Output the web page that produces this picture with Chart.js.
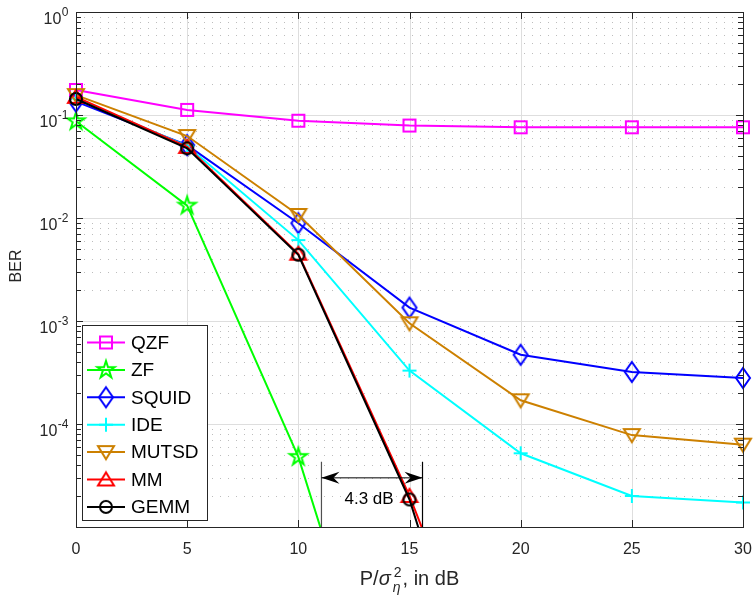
<!DOCTYPE html>
<html><head><meta charset="utf-8">
<script src="https://cdn.jsdelivr.net/npm/chart.js@4.4.1/dist/chart.umd.min.js"></script>
<style>html,body{margin:0;padding:0;background:#fff;}#wrap{width:753px;height:597px;}</style>
</head><body><div id="wrap"><canvas id="c" width="753" height="597"></canvas></div>
<script>
// ---- data ----
const snr   = [0, 5, 10, 15, 20, 25, 30];
const qzf   = [0.175, 0.112, 0.088, 0.079, 0.076, 0.076, 0.076];
const zf    = [0.087, 0.0132, 4.8e-5, 1.7e-8, null, null, null];
const squid = [0.135, 0.051, 0.0089, 0.00135, 0.00047, 0.00032, 0.00028];
const ide   = [0.145, 0.050, 0.0061, 0.00033, 5.2e-5, 2.0e-5, 1.73e-5];
const mutsd = [0.156, 0.0625, 0.0107, 0.00095, 0.00017, 7.8e-5, 6.3e-5];
const mm    = [0.150, 0.049, 0.0045, 2.0e-5, 3.5e-8, null, null];
const gemm  = [0.143, 0.0475, 0.0044, 1.85e-5, 7e-9, null, null];
const seriesNames = ['QZF', 'ZF', 'SQUID', 'IDE', 'MUTSD', 'MM', 'GEMM'];
const xTicks = [0, 5, 10, 15, 20, 25, 30];
const yMajorTicks = [1e0, 1e-1, 1e-2, 1e-3, 1e-4, 1e-5];
const yTickExps = ['0', '-1', '-2', '-3', '-4', ''];
const gapLabel = '4.3 dB';
const gapX = [11.04, 15.585];          // dB
const gapY = [4.3e-5, 3.0e-5, 1.67e-5]; // top of guides, arrow, text baseline
const gapTextX = 13.18;

const seriesData = [qzf, zf, squid, ide, mutsd, mm, gemm];
const colors = ['#ff00ff', '#00ff00', '#0000ff', '#00ffff', '#cc8000', '#ff0000', '#000000'];
const markerTypes = ['square', 'pentagram', 'diamond', 'plus', 'tridown', 'triup', 'circle'];
const FONT = '"Liberation Sans", Arial, Helvetica, sans-serif';
const AX = '#262626';

function makeMarker(type, color) {
  const s = 26, m = s / 2;
  const c = document.createElement('canvas'); c.width = s; c.height = s;
  const g = c.getContext('2d');
  g.strokeStyle = color; g.lineWidth = 2; g.lineJoin = 'miter';
  g.beginPath();
  if (type === 'square') { g.rect(m - 6, m - 6, 12, 12); }
  else if (type === 'pentagram') {
    const R = 9, r = R * 0.382;
    for (let i = 0; i < 10; i++) {
      const a = -Math.PI / 2 + i * Math.PI / 5, rr = i % 2 ? r : R;
      const px = m + rr * Math.cos(a), py = m + rr * Math.sin(a);
      i ? g.lineTo(px, py) : g.moveTo(px, py);
    }
    g.closePath();
  }
  else if (type === 'diamond') { g.moveTo(m, m - 10); g.lineTo(m + 7, m); g.lineTo(m, m + 10); g.lineTo(m - 7, m); g.closePath(); }
  else if (type === 'plus') { g.moveTo(m - 7, m); g.lineTo(m + 7, m); g.moveTo(m, m - 7); g.lineTo(m, m + 7); }
  else if (type === 'tridown') { g.moveTo(m - 8, m - 6); g.lineTo(m + 8, m - 6); g.lineTo(m, m + 7); g.closePath(); }
  else if (type === 'triup') { g.moveTo(m - 8, m + 6); g.lineTo(m + 8, m + 6); g.lineTo(m, m - 7); g.closePath(); }
  else if (type === 'circle') { g.arc(m, m, 6, 0, Math.PI * 2); }
  g.stroke();
  return c;
}
const markers = markerTypes.map((t, i) => makeMarker(t, colors[i]));

const datasets = seriesNames.map((name, i) => ({
  label: name,
  data: snr.map((x, j) => ({ x: x, y: seriesData[i][j] })),
  borderColor: colors[i],
  backgroundColor: colors[i],
  borderWidth: 2,
  pointStyle: markers[i],
  pointRadius: 7,
  pointHoverRadius: 7,
  fill: false,
  tension: 0,
  spanGaps: false,
  order: seriesNames.length - 1 - i,
  clip: { left: 15, right: 15, top: 0, bottom: 0 }
}));

const drawPlugin = {
  id: 'matlabStyle',
  beforeDatasetsDraw(chart) {
    const ctx = chart.ctx, a = chart.chartArea, xs = chart.scales.x, ys = chart.scales.y;
    ctx.save();
    ctx.strokeStyle = '#bdbdbd'; ctx.lineWidth = 1; ctx.setLineDash([1, 7]);
    for (let e = -5; e < 0; e++) for (let k = 2; k <= 9; k++) {
      const y = Math.round(ys.getPixelForValue(k * Math.pow(10, e))) + 0.5;
      ctx.beginPath(); ctx.moveTo(a.left, y); ctx.lineTo(a.right, y); ctx.stroke();
    }
    ctx.setLineDash([]);
    ctx.strokeStyle = '#dedede';
    xTicks.forEach(v => {
      const x = Math.round(xs.getPixelForValue(v)) + 0.5;
      ctx.beginPath(); ctx.moveTo(x, a.top); ctx.lineTo(x, a.bottom); ctx.stroke();
    });
    yMajorTicks.forEach(v => {
      const y = Math.round(ys.getPixelForValue(v)) + 0.5;
      ctx.beginPath(); ctx.moveTo(a.left, y); ctx.lineTo(a.right, y); ctx.stroke();
    });
    ctx.restore();
  },
  afterDatasetsDraw(chart) {
    const ctx = chart.ctx, a = chart.chartArea, xs = chart.scales.x, ys = chart.scales.y;
    ctx.save();
    ctx.strokeStyle = AX; ctx.lineWidth = 1;
    ctx.strokeRect(Math.round(a.left) + 0.5, Math.round(a.top) + 0.5, Math.round(a.right - a.left), Math.round(a.bottom - a.top));
    ctx.beginPath();
    xTicks.forEach(v => {
      const x = Math.round(xs.getPixelForValue(v)) + 0.5;
      ctx.moveTo(x, a.bottom); ctx.lineTo(x, a.bottom - 7);
      ctx.moveTo(x, a.top); ctx.lineTo(x, a.top + 7);
    });
    for (let e = -5; e <= 0; e++) for (let k = 1; k <= 9; k++) {
      if (e === 0 && k > 1) break;
      const y = Math.round(ys.getPixelForValue(k * Math.pow(10, e))) + 0.5;
      const L = k === 1 ? 7 : 5;
      ctx.moveTo(a.left, y); ctx.lineTo(a.left + L, y);
      ctx.moveTo(a.right, y); ctx.lineTo(a.right - L, y);
    }
    ctx.stroke();
    ctx.fillStyle = AX; ctx.font = '16px ' + FONT; ctx.textAlign = 'center'; ctx.textBaseline = 'alphabetic';
    xTicks.forEach(v => ctx.fillText(String(v), xs.getPixelForValue(v), 553.5));
    yMajorTicks.forEach((v, i) => {
      if (!yTickExps[i]) return;
      const y = ys.getPixelForValue(v);
      ctx.font = '12px ' + FONT;
      const ew = ctx.measureText(yTickExps[i]).width;
      const ex = 68.5 - ew;
      ctx.textAlign = 'left';
      ctx.fillText(yTickExps[i], ex, y + 4);
      ctx.font = '16px ' + FONT; ctx.textAlign = 'right';
      ctx.fillText('10', ex - 0.5, y + 11.5);
    });
    ctx.save();
    ctx.translate(21, 266); ctx.rotate(-Math.PI / 2);
    ctx.font = '16px ' + FONT; ctx.textAlign = 'center'; ctx.textBaseline = 'alphabetic';
    ctx.fillText('BER', 0, 0);
    ctx.restore();
    ctx.textAlign = 'left';
    const fMain = '20px ' + FONT, fIt = 'italic 20px ' + FONT, fSc = '14px ' + FONT, fScIt = 'italic 14px ' + FONT;
    ctx.font = fMain; const w1 = ctx.measureText('P/').width; const w4 = ctx.measureText(', in dB').width;
    ctx.font = fIt; const w2 = ctx.measureText('σ').width;
    ctx.font = fSc; const wSup = ctx.measureText('2').width;
    ctx.font = fScIt; const wSub = ctx.measureText('η').width;
    const wScr = Math.max(wSup, wSub) + 2;
    const total = w1 + w2 + 2 + wScr + w4;
    let tx = (a.left + a.right) / 2 - total / 2;
    const by = 585;
    ctx.font = fMain; ctx.fillText('P/', tx, by); tx += w1;
    ctx.font = fIt; ctx.fillText('σ', tx, by); tx += w2 + 2;
    ctx.font = fSc; ctx.fillText('2', tx + 1, by - 8);
    ctx.font = fScIt; ctx.fillText('η', tx, by + 7); tx += wScr;
    ctx.font = fMain; ctx.fillText(', in dB', tx, by);

    const gx1 = xs.getPixelForValue(gapX[0]), gx2 = xs.getPixelForValue(gapX[1]);
    const gTop = ys.getPixelForValue(gapY[0]), gArr = ys.getPixelForValue(gapY[1]), gTxt = ys.getPixelForValue(gapY[2]);
    ctx.lineWidth = 1.2;
    ctx.strokeStyle = '#505050';
    ctx.beginPath(); ctx.moveTo(gx1, gTop); ctx.lineTo(gx1, a.bottom); ctx.stroke();
    ctx.strokeStyle = '#000';
    ctx.beginPath(); ctx.moveTo(gx2, gTop); ctx.lineTo(gx2, a.bottom); ctx.stroke();
    ctx.lineWidth = 1;
    ctx.beginPath(); ctx.moveTo(gx1, gArr); ctx.lineTo(gx2, gArr); ctx.stroke();
    ctx.fillStyle = '#000';
    const head = (tipX, dir) => {
      ctx.beginPath();
      ctx.moveTo(tipX, gArr);
      ctx.lineTo(tipX + dir * 18, gArr - 6);
      ctx.lineTo(tipX + dir * 12, gArr);
      ctx.lineTo(tipX + dir * 18, gArr + 6);
      ctx.closePath(); ctx.fill();
    };
    head(gx1, 1); head(gx2, -1);
    ctx.fillStyle = '#000'; ctx.font = '17px ' + FONT; ctx.textAlign = 'center';
    ctx.fillText(gapLabel, xs.getPixelForValue(gapTextX), gTxt);

    const lx = 82, ly = 325, lw = 125, lh = 195;
    ctx.fillStyle = '#fff'; ctx.fillRect(lx, ly, lw, lh);
    ctx.strokeStyle = AX; ctx.lineWidth = 1;
    ctx.strokeRect(lx + 0.5, ly + 0.5, lw, lh);
    ctx.font = '19px ' + FONT; ctx.textAlign = 'left'; ctx.textBaseline = 'middle';
    seriesNames.forEach((n, i) => {
      const y = 342.5 + i * 27.4;
      ctx.strokeStyle = colors[i]; ctx.lineWidth = 2;
      ctx.beginPath(); ctx.moveTo(87, y); ctx.lineTo(125, y); ctx.stroke();
      ctx.drawImage(markers[i], 106 - markers[i].width / 2, y - markers[i].height / 2);
      ctx.fillStyle = '#000';
      ctx.fillText(n, 131, y + 1);
    });
    ctx.restore();
  }
};

new Chart(document.getElementById('c'), {
  type: 'line',
  data: { datasets: datasets },
  options: {
    responsive: false,
    animation: false,
    devicePixelRatio: 1,
    layout: { padding: { left: 0, right: 10, top: 12, bottom: 0 } },
    plugins: { legend: { display: false }, tooltip: { enabled: false } },
    events: [],
    scales: {
      x: {
        type: 'linear', min: 0, max: 30,
        ticks: { display: false, stepSize: 5 },
        grid: { display: false }, border: { display: false },
        afterFit(s) { s.height = 70; }
      },
      y: {
        type: 'logarithmic', min: 1e-5, max: 1,
        ticks: { display: false },
        grid: { display: false }, border: { display: false },
        afterFit(s) { s.width = 76; }
      }
    }
  },
  plugins: [drawPlugin]
});
</script>
</body></html>
